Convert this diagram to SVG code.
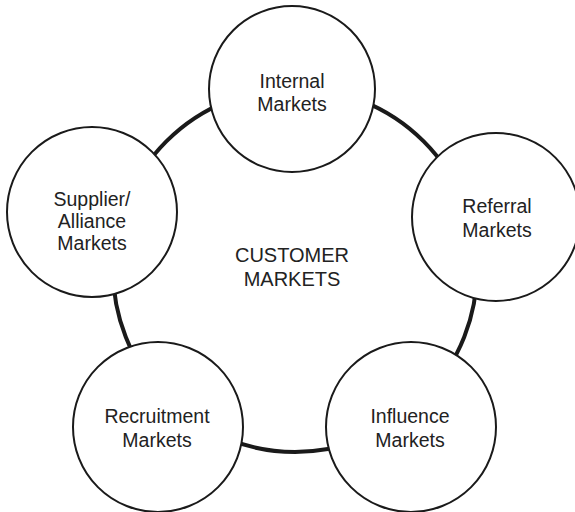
<svg xmlns="http://www.w3.org/2000/svg" width="575" height="512" viewBox="0 0 575 512">
  <style>
    .ring { fill: none; stroke: #1a1a1a; stroke-width: 4; }
    .node { fill: #ffffff; stroke: #1a1a1a; stroke-width: 2; }
    .label { font-family: "Liberation Sans", Arial, sans-serif; font-size: 19.5px; fill: #222222; text-anchor: middle; }
  </style>
  <rect width="575" height="512" fill="#ffffff"/>

  <!-- ring connecting the outer markets -->
  <g id="connectors">
    <circle class="ring" cx="295" cy="270" r="182"/>
  </g>

  <g id="customer-markets">
    <text class="label" x="292" y="262" style="font-size:20px">CUSTOMER</text>
    <text class="label" x="292" y="286" style="font-size:20px">MARKETS</text>
  </g>

  <g id="internal-markets">
    <circle class="node" cx="292" cy="89" r="83"/>
    <text class="label" x="292" y="88">Internal</text>
    <text class="label" x="292" y="111">Markets</text>
  </g>

  <g id="referral-markets">
    <circle class="node" cx="496" cy="217" r="84"/>
    <text class="label" x="497" y="213">Referral</text>
    <text class="label" x="497" y="237">Markets</text>
  </g>

  <g id="supplier-alliance-markets">
    <circle class="node" cx="92" cy="212" r="85"/>
    <text class="label" x="92" y="206">Supplier/</text>
    <text class="label" x="92" y="228">Alliance</text>
    <text class="label" x="92" y="250">Markets</text>
  </g>

  <g id="recruitment-markets">
    <circle class="node" cx="158" cy="427" r="85"/>
    <text class="label" x="157" y="423">Recruitment</text>
    <text class="label" x="157" y="447">Markets</text>
  </g>

  <g id="influence-markets">
    <circle class="node" cx="411" cy="427" r="85"/>
    <text class="label" x="410" y="423">Influence</text>
    <text class="label" x="410" y="447">Markets</text>
  </g>
</svg>
